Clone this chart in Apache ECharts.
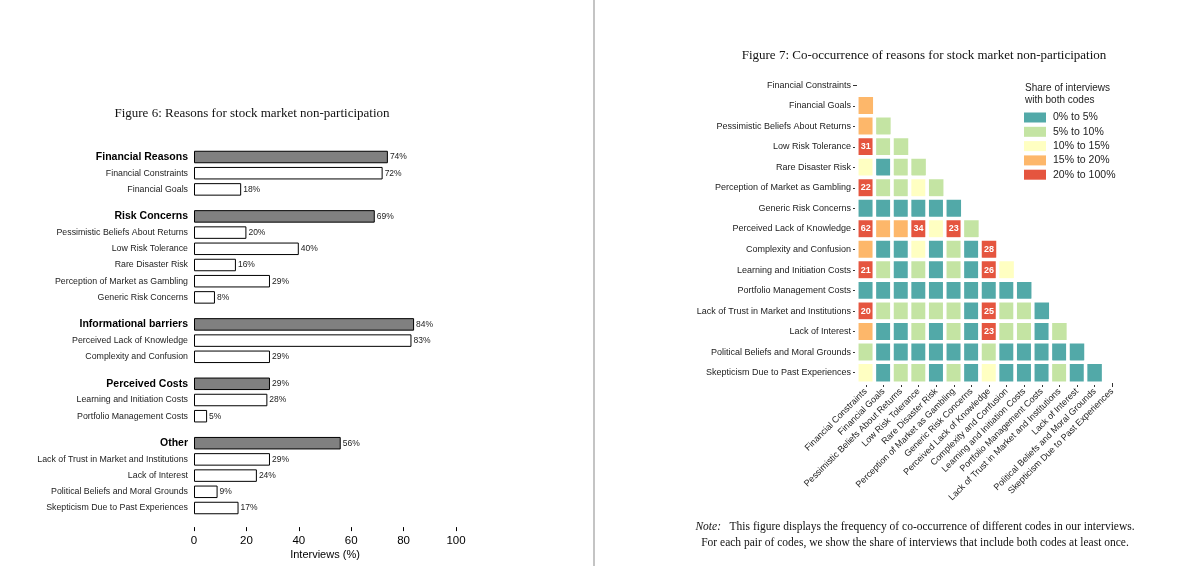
<!DOCTYPE html>
<html>
<head>
<meta charset="utf-8">
<script src="https://cdn.jsdelivr.net/npm/echarts@6/dist/echarts.min.js"></script>
<style>
html,body{margin:0;padding:0;background:#fff;}
#c{width:1200px;height:566px;}
</style>
</head>
<body>
<div id="c"></div>
<script>
// ---------- Figure 6 data ----------
var groupNames = ['Financial Reasons','Risk Concerns','Informational barriers','Perceived Costs','Other'];
var groupValues = [74, 69, 84, 29, 56];
var subNames = [
  ['Financial Constraints','Financial Goals'],
  ['Pessimistic Beliefs About Returns','Low Risk Tolerance','Rare Disaster Risk','Perception of Market as Gambling','Generic Risk Concerns'],
  ['Perceived Lack of Knowledge','Complexity and Confusion'],
  ['Learning and Initiation Costs','Portfolio Management Costs'],
  ['Lack of Trust in Market and Institutions','Lack of Interest','Political Beliefs and Moral Grounds','Skepticism Due to Past Experiences']
];
var subValues = [
  [72, 18],
  [20, 40, 16, 29, 8],
  [83, 29],
  [28, 5],
  [29, 24, 9, 17]
];
var barTicks = [0, 20, 40, 60, 80, 100];

// ---------- Figure 7 data ----------
var coCategories = ['Financial Constraints','Financial Goals','Pessimistic Beliefs About Returns','Low Risk Tolerance','Rare Disaster Risk','Perception of Market as Gambling','Generic Risk Concerns','Perceived Lack of Knowledge','Complexity and Confusion','Learning and Initiation Costs','Portfolio Management Costs','Lack of Trust in Market and Institutions','Lack of Interest','Political Beliefs and Moral Grounds','Skepticism Due to Past Experiences'];
// lower triangle, row i holds columns 0..i-1 (share of interviews, %)
var coRows = [
  [],
  [17],
  [17, 7],
  [31, 7, 7],
  [12, 3, 7, 7],
  [22, 7, 7, 12, 7],
  [3, 3, 3, 3, 3, 3],
  [62, 17, 17, 34, 12, 23, 7],
  [17, 3, 3, 12, 3, 7, 3, 28],
  [21, 7, 3, 7, 3, 7, 3, 26, 12],
  [3, 3, 3, 3, 3, 3, 3, 3, 3, 3],
  [20, 7, 7, 7, 7, 7, 3, 25, 7, 7, 3],
  [17, 3, 3, 7, 3, 7, 3, 23, 7, 7, 3, 7],
  [7, 3, 3, 3, 3, 3, 3, 7, 3, 3, 3, 3, 3],
  [12, 3, 7, 7, 3, 7, 3, 12, 3, 3, 3, 7, 3, 3]
];
var binLabels = ['0% to 5%','5% to 10%','10% to 15%','15% to 20%','20% to 100%'];
var binEdges = [0, 5, 10, 15, 20, 100];
var binColors = ['#52a9a8','#c4e4a3','#ffffc2','#fdb76a','#e5553f'];

(function () {
var SANS = '"Liberation Sans", Arial, sans-serif';
var SERIF = '"Liberation Serif", "Times New Roman", serif';

var chart = echarts.init(document.getElementById('c'));

var grids = [], xAxes = [], yAxes = [], series = [];
var rowH = 16.2, firstCenter = 157, groupGap = 10.8;
var curTop = firstCenter - rowH / 2;
for (var g = 0; g < groupNames.length; g++) {
  var cats = [groupNames[g]].concat(subNames[g]);
  var vals = [groupValues[g]].concat(subValues[g]);
  var h = cats.length * rowH;
  grids.push({left: 194, width: 262, top: curTop, height: h});
  curTop += h + groupGap;
  var last = (g === groupNames.length - 1);
  xAxes.push({
    type: 'value', gridIndex: g, min: 0, max: 100, interval: 20,
    show: true,
    offset: 11,
    axisLine: {show: false},
    axisTick: {show: last, length: 4, lineStyle: {color: '#000', width: 1}},
    axisLabel: {show: last, fontFamily: SANS, fontSize: 11.5, color: '#000', margin: 8},
    splitLine: {show: false},
    name: last ? 'Interviews (%)' : '',
    nameLocation: 'middle', nameGap: 22,
    nameTextStyle: {fontFamily: SANS, fontSize: 11, color: '#000'}
  });
  yAxes.push({
    type: 'category', gridIndex: g, data: cats, inverse: true,
    axisLine: {show: false}, axisTick: {show: false},
    axisLabel: {
      margin: 6,
      formatter: function (v, i) { return i === 0 ? '{h|' + v + '}' : '{s|' + v + '}'; },
      rich: {
        h: {fontFamily: SANS, fontSize: 10.5, fontWeight: 'bold', color: '#000'},
        s: {fontFamily: SANS, fontSize: 8.8, color: '#222'}
      }
    }
  });
  series.push({
    type: 'bar', xAxisIndex: g, yAxisIndex: g, barWidth: 12.5,
    data: vals.map(function (v, i) {
      return {value: v, itemStyle: {color: i === 0 ? '#808080' : '#ffffff', borderColor: '#000', borderWidth: 1}};
    }),
    label: {show: true, position: 'right', distance: 2, formatter: '{c}%', fontFamily: SANS, fontSize: 8.5, color: '#222'},
    silent: true
  });
}

// heatmap
var hmIndex = grids.length;
grids.push({left: 857, top: 75, width: 264, height: 308});
xAxes.push({
  type: 'category', gridIndex: hmIndex, data: coCategories,
  axisLine: {show: false},
  axisTick: {show: true, alignWithLabel: true, length: 4, lineStyle: {color: '#333'}},
  axisLabel: {rotate: 45, interval: 0, fontFamily: SANS, fontSize: 9, color: '#222', margin: 7},
  splitLine: {show: false}
});
yAxes.push({
  type: 'category', gridIndex: hmIndex, data: coCategories, inverse: true,
  axisLine: {show: false},
  axisTick: {show: true, alignWithLabel: true, length: 4, lineStyle: {color: '#333'}},
  axisLabel: {interval: 0, fontFamily: SANS, fontSize: 9, color: '#222', margin: 6},
  splitLine: {show: false}
});
var hmData = [];
coRows.forEach(function (row, i) {
  row.forEach(function (v, j) { hmData.push([j, i, v]); });
});
series.push({
  type: 'heatmap', xAxisIndex: hmIndex, yAxisIndex: hmIndex, data: hmData,
  itemStyle: {borderColor: '#fff', borderWidth: 3.6},
  label: {
    show: true, color: '#fff', fontFamily: SANS, fontWeight: 'bold', fontSize: 9,
    formatter: function (p) { return p.value[2] >= 20 ? String(p.value[2]) : ''; }
  },
  silent: true
});

var pieces = binLabels.map(function (l, i) {
  return {gte: binEdges[i], lt: binEdges[i + 1], label: l, color: binColors[i]};
});

chart.setOption({
  animation: false,
  backgroundColor: '#fff',
  title: [
    {text: 'Figure 6: Reasons for stock market non-participation', left: 247, top: 102, textAlign: 'center',
     textStyle: {fontFamily: SERIF, fontSize: 13, fontWeight: 'normal', color: '#111'}},
    {text: 'Figure 7: Co-occurrence of reasons for stock market non-participation', left: 919, top: 44, textAlign: 'center',
     textStyle: {fontFamily: SERIF, fontSize: 13, fontWeight: 'normal', color: '#111'}},
    {text: 'Share of interviews\nwith both codes', left: 1020, top: 77,
     textStyle: {fontFamily: SANS, fontSize: 10, fontWeight: 'normal', color: '#222', lineHeight: 12}},
    {text: '{i|Note:}   This figure displays the frequency of co-occurrence of different codes in our interviews.\nFor each pair of codes, we show the share of interviews that include both codes at least once.',
     left: 910, top: 514, textAlign: 'center',
     textStyle: {fontFamily: SERIF, fontSize: 11.5, fontWeight: 'normal', color: '#111', lineHeight: 16,
       rich: {i: {fontFamily: SERIF, fontStyle: 'italic', fontSize: 11.5, color: '#111'}}}}
  ],
  visualMap: {
    type: 'piecewise', seriesIndex: series.length - 1, pieces: pieces,
    orient: 'vertical', left: 1009, top: 97, inverse: true, align: 'left',
    itemWidth: 22, itemHeight: 10, itemGap: 3.3, itemSymbol: 'rect', textGap: 7,
    textStyle: {fontFamily: SANS, fontSize: 10.5, color: '#222'},
    selectedMode: false
  },
  grid: grids,
  xAxis: xAxes,
  yAxis: yAxes,
  series: series,
  graphic: [
    {type: 'line', shape: {x1: 594, y1: 0, x2: 594, y2: 566}, style: {stroke: '#b0b0b0', lineWidth: 1.5}, silent: true}
  ]
});
})();
</script>
</body>
</html>
